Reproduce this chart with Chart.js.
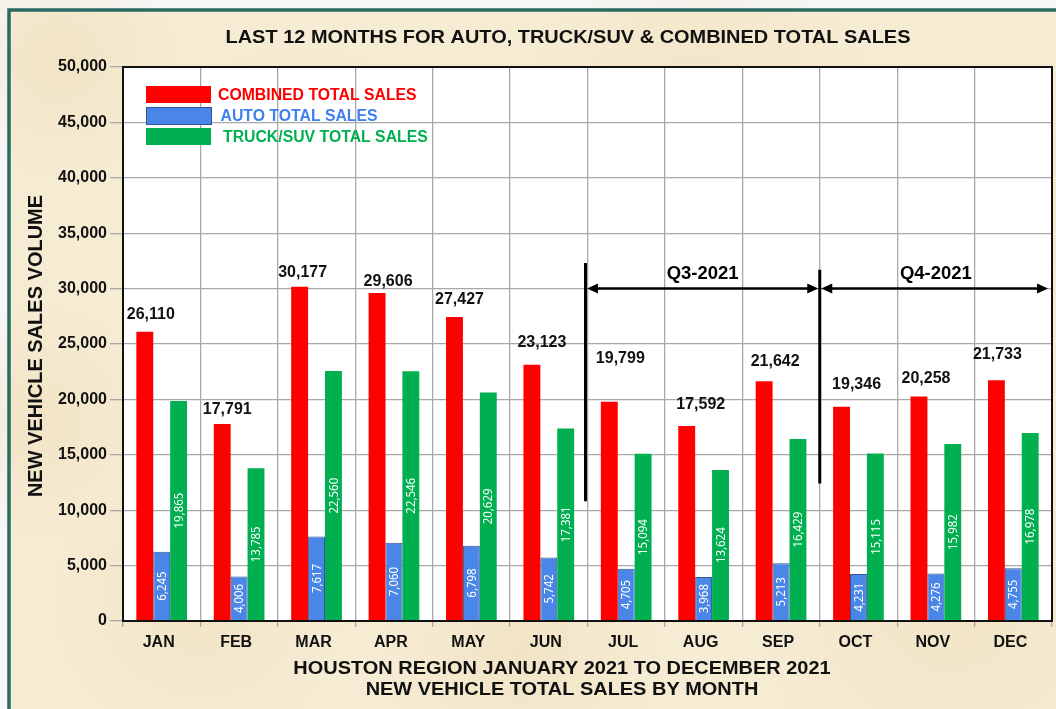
<!DOCTYPE html>
<html><head><meta charset="utf-8">
<script src="https://cdn.jsdelivr.net/npm/chart.js@4"></script>
<style>
html,body{margin:0;padding:0;background:#f7f7f7;overflow:hidden;}
#c{display:block;}
</style>
</head><body>
<canvas id="c" width="1056" height="709"></canvas>
<script>
// ---- data ----
const months = ['JAN','FEB','MAR','APR','MAY','JUN','JUL','AUG','SEP','OCT','NOV','DEC'];
const combinedSales = [26110,17791,30177,29606,27427,23123,19799,17592,21642,19346,20258,21733];
const autoSales = [6245,4006,7617,7060,6798,5742,4705,3968,5213,4231,4276,4755];
const truckSales = [19865,13785,22560,22546,20629,17381,15094,13624,16429,15115,15982,16978];
const seriesNames = ['COMBINED TOTAL SALES','AUTO TOTAL SALES','TRUCK/SUV TOTAL SALES'];
const yTicks = [0,5000,10000,15000,20000,25000,30000,35000,40000,45000,50000];
const quarterLabels = ['Q3-2021','Q4-2021'];

// ---- styling (label nudges in px, not data) ----
const nudgeX = [6,5,3,11,5,10,11,14,11,15,7,1];
const nudgeY = [-17,-14,-14,-11,-18,-22,-43,-21,-20,-22,-18,-26];

const FONT = "'Liberation Sans', Arial, sans-serif";
const colors = ['#ff0000','#4a86e8','#00b050'];
const legendText = ['#ff0000','#3f80ee','#00b050'];
const fmt = v => v.toLocaleString('en-US');

const decor = {
  id:'decor',
  beforeDraw(chart){
    const {ctx, chartArea:a} = chart;
    ctx.save();
    ctx.fillStyle = '#f7f7f7';
    ctx.fillRect(0,0,chart.width,chart.height);
    ctx.fillStyle = '#f6ecd4';
    ctx.fillRect(8,9,chart.width,chart.height);
    const blots = [[60,60,120],[300,200,160],[700,120,180],[950,600,200],[200,600,150],[520,650,140],[40,420,120],[1000,200,120]];
    for(const [x,y,r] of blots){
      const g = ctx.createRadialGradient(x,y,0,x,y,r);
      g.addColorStop(0,'rgba(236,218,180,0.45)');
      g.addColorStop(1,'rgba(236,218,180,0)');
      ctx.fillStyle = g;
      ctx.fillRect(x-r,y-r,2*r,2*r);
    }
    ctx.strokeStyle = '#2b6a62';
    ctx.lineWidth = 3.5;
    ctx.strokeRect(9,10,chart.width+20,chart.height+20);
    ctx.fillStyle = '#ffffff';
    ctx.fillRect(a.left,a.top,a.right-a.left,a.bottom-a.top);
    ctx.restore();
  },
  afterDatasetsDraw(chart){
    const {ctx, chartArea:a, scales:{x,y}} = chart;
    ctx.save();
    ctx.strokeStyle = '#111';
    ctx.lineWidth = 2;
    ctx.strokeRect(a.left,a.top,a.right-a.left,a.bottom-a.top);

    const m0 = chart.getDatasetMeta(0), m1 = chart.getDatasetMeta(1), m2 = chart.getDatasetMeta(2);
    ctx.fillStyle = '#111';
    ctx.font = `bold 16px ${FONT}`;
    ctx.textAlign = 'center';
    ctx.textBaseline = 'middle';
    m0.data.forEach((b,i)=>{
      ctx.fillText(fmt(combinedSales[i]), b.x + nudgeX[i], b.y + nudgeY[i]);
    });
    const inside = (meta, vals) => {
      meta.data.forEach((b,i)=>{
        ctx.save();
        ctx.translate(b.x + 0.5, (b.y + b.base)/2);
        ctx.rotate(-Math.PI/2);
        ctx.scale(0.88,1);
        ctx.fillStyle = '#ffffff';
        ctx.font = `13px 'Noto Sans', sans-serif`;
        ctx.textAlign = 'center';
        ctx.textBaseline = 'middle';
        ctx.fillText(fmt(vals[i]), 0, 0);
        ctx.restore();
      });
    };
    inside(m1, autoSales);
    inside(m2, truckSales);

    const ly = [86,107,128];
    for(let k=0;k<3;k++){
      ctx.fillStyle = colors[k];
      ctx.fillRect(146, ly[k], 65, 17);
      if(k===1){ ctx.strokeStyle='#2f5597'; ctx.lineWidth=1; ctx.strokeRect(146.5, ly[k]+0.5, 65, 17); }
      ctx.fillStyle = legendText[k];
      ctx.font = `bold 15.8px ${FONT}`;
      ctx.textAlign = 'left';
      ctx.textBaseline = 'middle';
      ctx.fillText(seriesNames[k], 218 + k*2.5, ly[k] + 9.5);
    }

    const b1 = x.getPixelForValue(5.5) - 2;
    const b2 = x.getPixelForValue(8.5);
    const bEnd = a.right - 4;
    ctx.strokeStyle = '#000';
    ctx.fillStyle = '#000';
    ctx.lineWidth = 3;
    ctx.beginPath();
    ctx.moveTo(b1, y.getPixelForValue(32300)); ctx.lineTo(b1, y.getPixelForValue(10800));
    ctx.moveTo(b2, y.getPixelForValue(31700)); ctx.lineTo(b2, y.getPixelForValue(12400));
    ctx.stroke();
    const ay = y.getPixelForValue(30000);
    const arrow = (x1,x2) => {
      ctx.lineWidth = 2.5;
      ctx.beginPath(); ctx.moveTo(x1+8,ay); ctx.lineTo(x2-8,ay); ctx.stroke();
      ctx.beginPath(); ctx.moveTo(x1,ay); ctx.lineTo(x1+11,ay-5); ctx.lineTo(x1+11,ay+5); ctx.closePath(); ctx.fill();
      ctx.beginPath(); ctx.moveTo(x2,ay); ctx.lineTo(x2-11,ay-5); ctx.lineTo(x2-11,ay+5); ctx.closePath(); ctx.fill();
    };
    arrow(b1+1.5, b2-1.5);
    arrow(b2+1.5, bEnd);
    ctx.font = `bold 18.5px ${FONT}`;
    ctx.textAlign = 'center';
    ctx.textBaseline = 'middle';
    ctx.fillText(quarterLabels[0], (b1+b2)/2, ay-15);
    ctx.fillText(quarterLabels[1], (b2+a.right)/2, ay-15);
    ctx.restore();
  },
  afterDraw(chart){
    const {ctx} = chart;
    const wide = (txt, cx, cy) => {
      ctx.save();
      ctx.translate(cx, cy);
      ctx.scale(1.05, 1);
      ctx.fillText(txt, 0, 0);
      ctx.restore();
    };
    ctx.save();
    ctx.fillStyle = '#111';
    ctx.textAlign = 'center';
    ctx.textBaseline = 'middle';
    ctx.font = `bold 19px ${FONT}`;
    wide('LAST 12 MONTHS FOR AUTO, TRUCK/SUV & COMBINED TOTAL SALES', 568, 38);
    wide('HOUSTON REGION JANUARY 2021 TO DECEMBER 2021', 562, 669);
    wide('NEW VEHICLE TOTAL SALES BY MONTH', 562, 690);
    ctx.translate(36, 346);
    ctx.rotate(-Math.PI/2);
    ctx.font = `bold 20px ${FONT}`;
    ctx.fillText('NEW VEHICLE SALES VOLUME', 0, 0);
    ctx.restore();
  }
};

new Chart(document.getElementById('c'), {
  type:'bar',
  data:{
    labels: months,
    datasets:[
      {label:seriesNames[0], data:combinedSales, backgroundColor:colors[0], borderWidth:0},
      {label:seriesNames[1], data:autoSales, backgroundColor:colors[1], borderColor:'#2f5597', borderWidth:1},
      {label:seriesNames[2], data:truckSales, backgroundColor:colors[2], borderWidth:0}
    ]
  },
  options:{
    responsive:false,
    animation:false,
    devicePixelRatio:1,
    categoryPercentage:0.655,
    barPercentage:1.0,
    layout:{padding:{top:67,right:4,left:0,bottom:0}},
    plugins:{legend:{display:false}, tooltip:{enabled:false}, title:{display:false}},
    scales:{
      x:{
        grid:{offset:true, color:'#a8a8a8', lineWidth:1.3, tickLength:6},
        border:{display:false},
        ticks:{color:'#111', font:{family:FONT, weight:'bold', size:16}, padding:6, maxRotation:0, labelOffset:-3},
        afterFit(s){ s.height = 88; }
      },
      y:{
        min:0, max:50000,
        afterBuildTicks(s){ s.ticks = yTicks.map(v=>({value:v})); },
        grid:{color:'#a8a8a8', lineWidth:1.3, tickLength:13},
        border:{display:false},
        ticks:{color:'#111', font:{family:FONT, weight:'bold', size:16}, padding:3, callback:v=>fmt(v)},
        afterFit(s){ s.width = 123; }
      }
    }
  },
  plugins:[decor]
});
</script>
</body></html>
